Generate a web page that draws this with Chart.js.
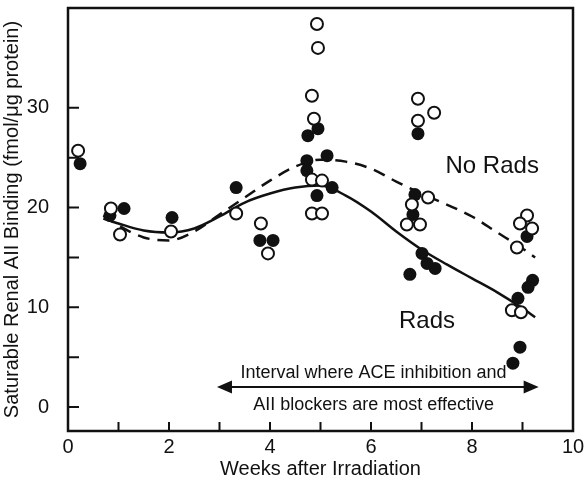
<!DOCTYPE html>
<html>
<head>
<meta charset="utf-8">
<script src="https://cdn.jsdelivr.net/npm/chart.js@4.4.1/dist/chart.umd.min.js"></script>
<style>
  html, body { margin: 0; padding: 0; background: #fff; }
  #wrap { width: 584px; height: 486px; }
</style>
</head>
<body>
<div id="wrap"><canvas id="chart"></canvas></div>
<script>
// open circles - No Rads
const noRadsX = [0.2, 0.85, 1.03, 2.04, 3.33, 3.82, 3.96, 4.93, 4.95, 4.83, 4.87, 4.83, 5.03, 4.83, 5.03,
  6.93, 7.25, 6.93, 7.13, 6.81, 6.71, 6.97, 9.09, 8.95, 9.19, 8.89, 8.79, 8.97];
const noRadsY = [25.7, 19.9, 17.3, 17.6, 19.4, 18.4, 15.4, 38.4, 36.0, 31.2, 28.9, 22.8, 22.7, 19.4, 19.4,
  30.9, 29.5, 28.7, 21.0, 20.3, 18.3, 18.3, 19.2, 18.4, 17.9, 16.0, 9.7, 9.5];

// filled circles - Rads
const radsX = [0.24, 0.83, 1.11, 2.06, 3.33, 3.80, 4.06, 4.75, 4.95, 4.73, 5.13, 4.73, 5.23, 4.93,
  6.93, 6.87, 6.83, 7.01, 6.77, 7.27, 7.11, 9.09, 9.2, 9.11, 8.91, 8.95, 8.81];
const radsY = [24.4, 19.2, 19.9, 19.0, 22.0, 16.7, 16.7, 27.2, 27.9, 24.7, 25.2, 23.7, 22.0, 21.2,
  27.4, 21.3, 19.3, 15.4, 13.3, 13.9, 14.4, 17.1, 12.7, 12.0, 10.9, 6.0, 4.4];

// fitted curves
const curveX = [0.7, 1.0, 1.5, 2.0, 2.5, 3.0, 3.5, 4.0, 4.5, 5.0, 5.5, 6.0, 6.5, 7.0, 7.5, 8.0, 8.5, 9.0, 9.25];
const radsCurve = [18.9, 18.4, 17.7, 17.5, 17.9, 19.1, 20.5, 21.4, 22.0, 22.2, 21.2, 19.6, 17.6, 15.8, 14.3, 12.9, 11.5, 9.9, 9.0];
const noRadsCurve = [19.2, 18.2, 17.0, 16.7, 17.6, 19.3, 21.0, 22.7, 24.1, 24.8, 24.6, 23.9, 22.6, 21.4, 20.3, 19.1, 17.5, 15.9, 15.0];

const xTicks = [0, 1, 2, 3, 4, 5, 6, 7, 8, 9, 10];
const yTicks = [0, 5, 10, 15, 20, 25, 30];

const FONT = '"Liberation Sans", Arial, Helvetica, sans-serif';

function pts(xs, ys) {
  return xs.map((x, i) => ({ x: x, y: ys[i] }));
}

// frame, inward ticks, labels and arrow
const decorations = {
  id: 'decorations',
  afterDraw(chart) {
    const ctx = chart.ctx;
    const a = chart.chartArea;
    const xs = chart.scales.x, ys = chart.scales.y;
    ctx.save();
    ctx.strokeStyle = '#111';
    ctx.lineWidth = 2.5;
    ctx.strokeRect(a.left, a.top, a.right - a.left, a.bottom - a.top);

    ctx.lineWidth = 2;
    ctx.beginPath();
    xTicks.forEach(v => {
      if (v === 0 || v === 10) return;
      const px = xs.getPixelForValue(v);
      ctx.moveTo(px, a.bottom);
      ctx.lineTo(px, a.bottom - 9);
    });
    yTicks.forEach(v => {
      const py = ys.getPixelForValue(v);
      ctx.moveTo(a.left, py);
      ctx.lineTo(a.left + 11, py);
    });
    ctx.stroke();

    ctx.fillStyle = '#111';
    ctx.textAlign = 'center';
    ctx.textBaseline = 'middle';
    ctx.font = '24px ' + FONT;
    ctx.fillText('No Rads', xs.getPixelForValue(8.4), ys.getPixelForValue(24.1));
    ctx.fillText('Rads', xs.getPixelForValue(7.11), ys.getPixelForValue(8.6));

    // interval arrow
    const x1 = xs.getPixelForValue(2.95), x2 = xs.getPixelForValue(9.32);
    const ay = ys.getPixelForValue(2.0);
    ctx.lineWidth = 2;
    ctx.beginPath();
    ctx.moveTo(x1 + 10, ay);
    ctx.lineTo(x2 - 10, ay);
    ctx.stroke();
    ctx.beginPath();
    ctx.moveTo(x1, ay);
    ctx.lineTo(x1 + 15, ay - 6.5);
    ctx.lineTo(x1 + 15, ay + 6.5);
    ctx.closePath();
    ctx.moveTo(x2, ay);
    ctx.lineTo(x2 - 15, ay - 6.5);
    ctx.lineTo(x2 - 15, ay + 6.5);
    ctx.closePath();
    ctx.fill();

    ctx.font = '18px ' + FONT;
    const tx = xs.getPixelForValue(6.05);
    ctx.fillText('Interval where ACE inhibition and', tx, ys.getPixelForValue(3.4));
    ctx.fillText('AII blockers are most effective', tx, ys.getPixelForValue(0.2));
    ctx.restore();
  }
};

new Chart(document.getElementById('chart'), {
  type: 'scatter',
  data: {
    datasets: [
      {
        label: 'No Rads',
        data: pts(noRadsX, noRadsY),
        pointRadius: 6,
        pointBorderWidth: 2,
        pointBackgroundColor: '#fff',
        pointBorderColor: '#111',
        order: 1
      },
      {
        label: 'Rads',
        data: pts(radsX, radsY),
        pointRadius: 6.5,
        pointBorderWidth: 0,
        pointBackgroundColor: '#111',
        pointBorderColor: '#111',
        order: 2
      },
      {
        label: 'Rads fit',
        data: pts(curveX, radsCurve),
        showLine: true,
        pointRadius: 0,
        borderColor: '#111',
        borderWidth: 2.5,
        cubicInterpolationMode: 'monotone',
        order: 3
      },
      {
        label: 'No Rads fit',
        data: pts(curveX, noRadsCurve),
        showLine: true,
        pointRadius: 0,
        borderColor: '#111',
        borderWidth: 2.5,
        borderDash: [12, 8],
        cubicInterpolationMode: 'monotone',
        order: 4
      }
    ]
  },
  options: {
    responsive: true,
    maintainAspectRatio: false,
    animation: false,
    layout: { padding: { top: 7, right: 11, left: 0, bottom: 0 } },
    plugins: {
      legend: { display: false },
      tooltip: { enabled: false }
    },
    scales: {
      x: {
        type: 'linear',
        min: 0,
        max: 10,
        afterBuildTicks: s => { s.ticks = xTicks.map(v => ({ value: v })); },
        afterFit: s => {
          s.height = 55;
          s.paddingLeft = 0;
          s.paddingRight = 0;
        },
        grid: { display: false },
        border: { display: false },
        ticks: {
          padding: -4,
          color: '#111',
          font: { family: FONT, size: 20 },
          maxRotation: 0,
          autoSkip: false,
          callback: v => (v % 2 === 0 ? String(v) : '')
        },
        title: {
          display: true,
          text: 'Weeks after Irradiation',
          color: '#111',
          font: { family: FONT, size: 20 },
          padding: { top: 0, bottom: 5 }
        }
      },
      y: {
        type: 'linear',
        min: -2.4,
        max: 40,
        afterBuildTicks: s => { s.ticks = yTicks.map(v => ({ value: v })); },
        afterFit: s => {
          s.width = 68;
          s.paddingTop = 0;
          s.paddingBottom = 0;
        },
        grid: { display: false },
        border: { display: false },
        ticks: {
          padding: 11,
          color: '#111',
          font: { family: FONT, size: 20 },
          autoSkip: false,
          callback: v => (v % 10 === 0 ? String(v) : '')
        },
        title: {
          display: true,
          text: 'Saturable Renal AII Binding (fmol/\u03bcg protein)',
          color: '#111',
          font: { family: FONT, size: 20 },
          padding: { top: 0, bottom: 0 }
        }
      }
    }
  },
  plugins: [decorations]
});
</script>
</body>
</html>
